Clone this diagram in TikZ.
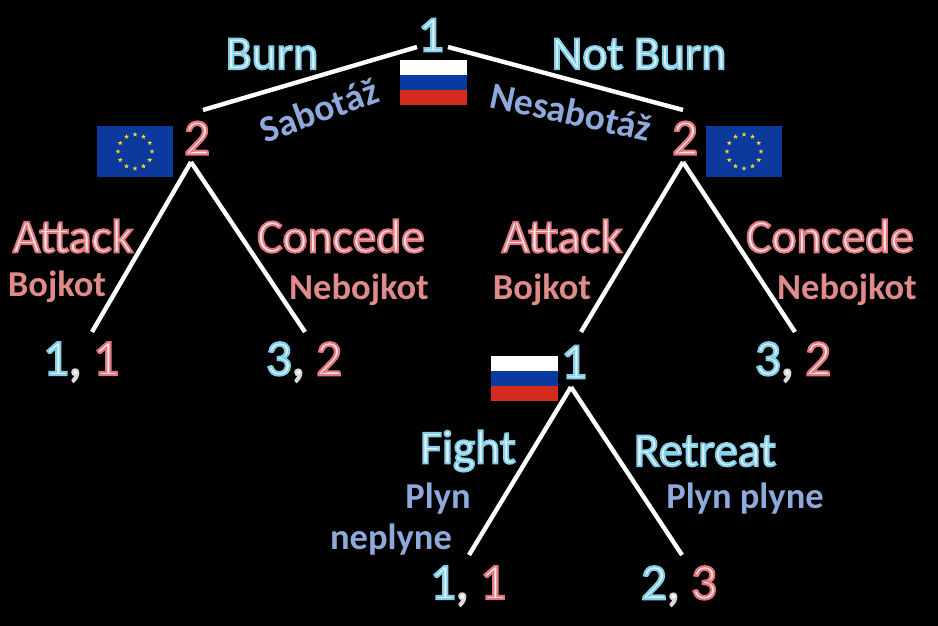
\documentclass[tikz,border=0pt]{standalone}
\usepackage{fontspec}
\setmainfont{Carlito}
\newfontfamily\glowfont[FakeBold=4.2]{Carlito}
\usetikzlibrary{calc,shapes.geometric}
\definecolor{czblue}{HTML}{8EA9DB}
\definecolor{czred}{HTML}{E08A8A}
\definecolor{eublue}{HTML}{0B3A9C}
\definecolor{rublue}{HTML}{0A3AA0}
\definecolor{rured}{HTML}{D52B1E}
\definecolor{eugold}{HTML}{F2D13C}
\newcommand{\bg}[1]{\special{pdf:bcolor [0.88 0.96 0.98] [0.52 0.81 0.91]}#1\special{pdf:ecolor}}
\newcommand{\rg}[1]{\special{pdf:bcolor [0.98 0.90 0.90] [0.88 0.48 0.50]}#1\special{pdf:ecolor}}
\newcommand{\cg}{\special{pdf:bcolor [1 1 1] [0.85 0.85 0.85]},\special{pdf:ecolor}}
\newcommand{\euflag}[2]{%
  \fill[eublue] (#1,#2) rectangle ++(76,51);
  \foreach \a in {0,30,...,330}
    \node[star,star points=5,star point ratio=2.4,fill=eugold,inner sep=0pt,minimum size=5pt]
      at ($(#1,#2)+(38,25.5)+(\a:17)$) {};}
\newcommand{\ruflag}[2]{%
  \fill[white] (#1,#2) rectangle ++(67,15);
  \fill[rublue] (#1,#2+15) rectangle ++(67,15);
  \fill[rured] (#1,#2+30) rectangle ++(67,15);}
\tikzset{
  edge/.style={draw=white,line width=4.4pt,line cap=butt,line join=miter},
  big/.style={font=\glowfont\fontsize{47.5}{47.5}\selectfont,inner sep=0pt},
  num/.style={font=\glowfont\fontsize{51}{51}\selectfont,inner sep=0pt},
  small/.style={font=\fontsize{36.5}{40}\selectfont\bfseries,inner sep=0pt},
  rotd/.style={font=\fontsize{37.5}{40}\selectfont\bfseries,inner sep=0pt,text=czblue},
  czb/.style={small,text=czblue,align=center},
  czr/.style={small,text=czred},
}
\begin{document}
\begin{tikzpicture}[x=1pt,y=-1pt]
\fill[black] (0,0) rectangle (938,626);
\useasboundingbox (0,0) rectangle (938,626);
% flags
\ruflag{400}{60}
\ruflag{491}{356}
\euflag{97}{126}
\euflag{706}{126}
% decision nodes
\node[num] (root) at (431,35) {\bg{1}};
\node[num] (L) at (197,138) {\rg{2}};
\node[num] (R) at (685,138) {\rg{2}};
\node[num] (M) at (574,362) {\bg{1}};
% payoffs
\node[num] (LL) at (81,362) {\bg{1}\cg{} \rg{1}};
\node[num] (LR) at (304,362) {\bg{3}\cg{} \rg{2}};
\node[num] (RR) at (793,362) {\bg{3}\cg{} \rg{2}};
\node[num] (ML) at (468,586) {\bg{1}\cg{} \rg{1}};
\node[num] (MR) at (679,586) {\bg{2}\cg{} \rg{3}};
% connectors
\draw[edge] ($(root)+(-14,12)$) -- ($(L)+(6,-28)$);
\draw[edge] ($(root)+(17,12)$) -- ($(R)+(-2,-28)$);
\draw[edge] ($(L)+(-6,24)$) -- ($(LL)+(11,-30)$);
\draw[edge] ($(L)+(-6,24)$) -- ($(LR)+(1,-30)$);
\draw[edge] ($(R)+(-2,24)$) -- ($(M)+(7,-30)$);
\draw[edge] ($(R)+(-2,24)$) -- ($(RR)+(2,-30)$);
\draw[edge] ($(M)+(-3,25)$) -- ($(ML)+(1,-31)$);
\draw[edge] ($(M)+(-3,25)$) -- ($(MR)+(3,-31)$);
% English labels
\node[big] (burn) at (272,54) {\bg{Burn}};
\node[big] (nburn) at (639,54) {\bg{Not Burn}};
\node[big] (at1) at (73,236) {\rg{Attack}};
\node[big] (co1) at (341,236) {\rg{Concede}};
\node[big] (at2) at (562,236) {\rg{Attack}};
\node[big] (co2) at (830,236) {\rg{Concede}};
\node[big] (fi) at (468,451) {\bg{Fight}};
\node[big] (re) at (705,451) {\bg{Retreat}};
% Czech labels
\node[rotd,rotate=20] (sab) at (319,110) {Sabotáž};
\node[rotd,rotate=-12] (nes) at (571,112) {Nesabotáž};
\node[czr] (bo1) at (57,287) {Bojkot};
\node[czr] (ne1) at (359,290) {Nebojkot};
\node[czr] (bo2) at (542,290) {Bojkot};
\node[czr] (ne2) at (847,290) {Nebojkot};
\node[czb] (pl1) at (438,499) {Plyn};
\node[czb] (pl2) at (391,540) {neplyne};
\node[czb] (pl3) at (745,499) {Plyn plyne};
\end{tikzpicture}
\end{document}
